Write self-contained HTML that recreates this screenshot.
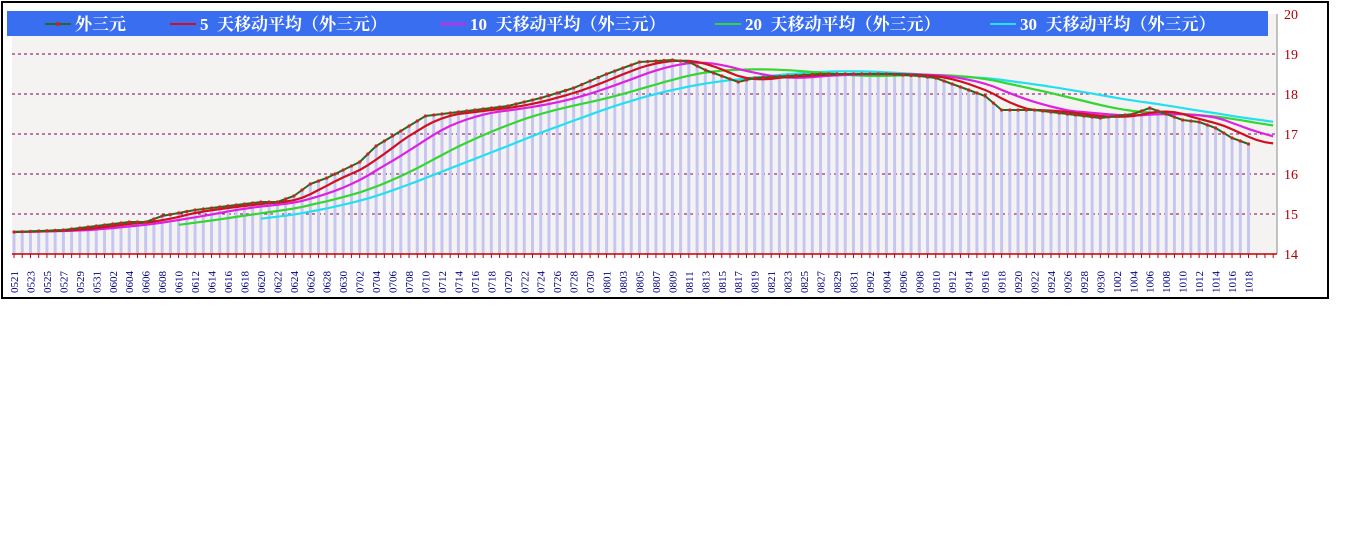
<!DOCTYPE html>
<html><head><meta charset="utf-8"><style>
body{margin:0;background:#fff;width:1348px;height:541px;overflow:hidden}
svg{position:absolute;left:0;top:0}
</style></head><body>
<svg id="s" width="1348" height="541" xmlns="http://www.w3.org/2000/svg" font-family="'Liberation Serif','Noto Serif CJK SC',serif"></svg>
<script>
const key=[[0,14.55],[6,14.6],[10,14.7],[14,14.8],[16,14.8],[18,14.95],[22,15.1],[26,15.2],[30,15.3],[32,15.3],[34,15.45],[36,15.75],[38,15.9],[40,16.1],[42,16.3],[44,16.7],[46,16.95],[48,17.2],[50,17.45],[52,17.5],[56,17.6],[60,17.7],[64,17.9],[68,18.15],[72,18.5],[76,18.8],[80,18.85],[82,18.8],[84,18.6],[86,18.45],[88,18.3],[90,18.4],[94,18.45],[98,18.5],[102,18.5],[106,18.5],[110,18.45],[112,18.4],[114,18.25],[116,18.1],[118,17.95],[120,17.6],[124,17.6],[128,17.5],[132,17.4],[134,17.45],[136,17.5],[138,17.65],[140,17.5],[142,17.35],[144,17.3],[146,17.15],[148,16.9],[150,16.75],[153,16.75]];
const P=[];
for(let i=0;i<=153;i++){for(let k=0;k<key.length-1;k++){const a=key[k],b=key[k+1];if(i>=a[0]&&i<=b[0]){P[i]=a[1]+(b[1]-a[1])*(i-a[0])/(b[0]-a[0]);break;}}}
const X=i=>14+i*8.23, Y=v=>254-(v-14)*40;
let h='';
h+='<rect x="2" y="2" width="1326" height="296" fill="#fff" stroke="#000" stroke-width="2"/>';
h+='<rect x="12" y="14" width="1265" height="240" fill="#f5f3f1"/>';
for(let v=15;v<=19;v++)h+=`<line x1="12" x2="1277" y1="${Y(v)}" y2="${Y(v)}" stroke="#800060" stroke-dasharray="3,3" stroke-width="1"/>`;
h+='<line x1="1277" x2="1277" y1="14" y2="254" stroke="#888"/>';
for(let i=0;i<=150;i++)h+=`<line x1="${X(i)}" x2="${X(i)}" y1="${Y(P[i])}" y2="254" stroke="#c6c6f2" stroke-width="3"/>`;
h+='<line x1="12" x2="1277" y1="254" y2="254" stroke="#c00000" stroke-width="1.5"/>';
for(let i=0;i<=153;i++)h+=`<line x1="${X(i)}" x2="${X(i)}" y1="254" y2="258" stroke="#c00000"/>`;
function ma(n,col,start){let pts=[];for(let i=start;i<=153;i++){let s=0,c=0;for(let j=Math.max(0,i-n+1);j<=i;j++){s+=P[j];c++;}pts.push(X(i).toFixed(1)+','+Y(s/c).toFixed(1));}
h+=`<polyline points="${pts.join(' ')}" fill="none" stroke="${col}" stroke-width="2.2"/>`;}
ma(30,'#22e0f0',30);ma(20,'#33d633',20);ma(10,'#e020e0',0);ma(5,'#d01020',0);
let pp=[];for(let i=0;i<=150;i++)pp.push(X(i).toFixed(1)+','+Y(P[i]).toFixed(1));
h+=`<polyline points="${pp.join(' ')}" fill="none" stroke="#2a6a20" stroke-width="2"/>`;
for(let i=0;i<=150;i++)h+=`<circle cx="${X(i)}" cy="${Y(P[i])}" r="1.6" fill="#d02020"/>`;
for(let v=14;v<=20;v++)h+=`<text x="1284" y="${Y(v)+5}" font-size="14" fill="#b00000">${v}</text>`;
const d0=new Date(2000,4,21);
for(let i=0;i<=150;i+=2){const d=new Date(d0.getTime()+i*86400000);const s=String(d.getMonth()+1).padStart(2,'0')+String(d.getDate()).padStart(2,'0');
h+=`<text transform="translate(${X(i)+4},293) rotate(-90)" font-size="11" fill="#000080">${s}</text>`;}
h+='<rect x="7" y="11" width="1261" height="25" fill="#3a6ef0"/>';
const L=[[45,'#2a6a20','外三元',true],[170,'#d01020','5 &#160;天移动平均（外三元）'],[440,'#e020e0','10 &#160;天移动平均（外三元）'],[715,'#33d633','20 &#160;天移动平均（外三元）'],[990,'#22e0f0','30 &#160;天移动平均（外三元）']];
for(const [x,c,t,dot] of L){h+=`<line x1="${x}" x2="${x+26}" y1="24" y2="24" stroke="${c}" stroke-width="2"/>`;if(dot)h+=`<circle cx="${x+13}" cy="24" r="2" fill="#d02020"/>`;
h+=`<text x="${x+30}" y="30" font-size="17" font-weight="bold" fill="#fff">${t}</text>`;}
document.getElementById('s').innerHTML=h;
</script>
</body></html>
